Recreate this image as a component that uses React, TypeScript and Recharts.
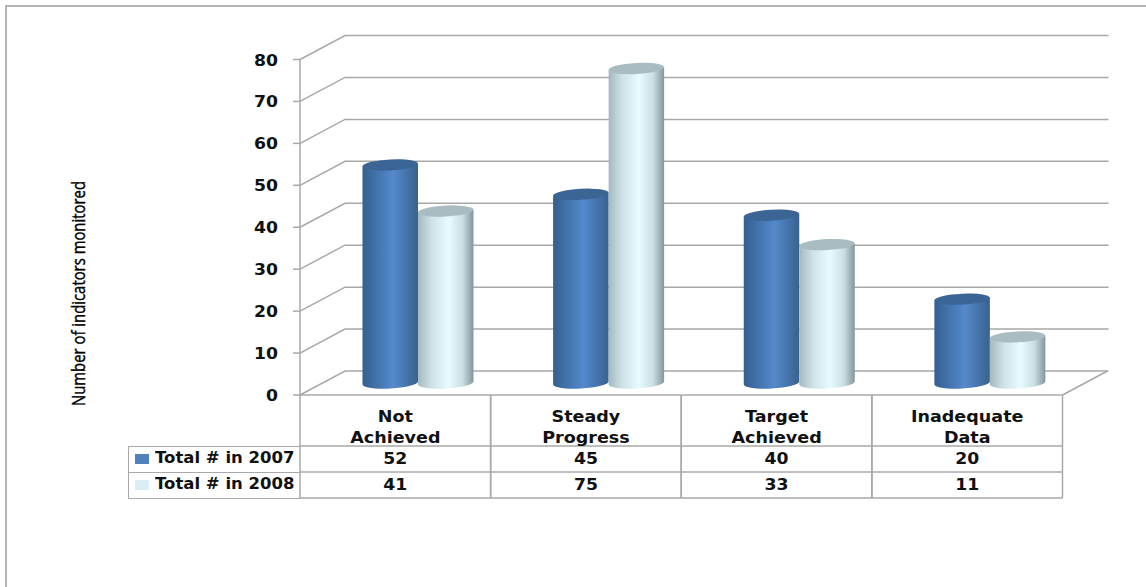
import React from 'react';
import { BarChart, Bar, XAxis, YAxis, CartesianGrid, Legend, Label } from 'recharts';

const categories = ['Not Achieved', 'Steady Progress', 'Target Achieved', 'Inadequate Data'];
const total2007 = [52, 45, 40, 20];
const total2008 = [41, 75, 33, 11];
const yTicks = [0, 10, 20, 30, 40, 50, 60, 70, 80];
const seriesNames = ['Total # in 2007', 'Total # in 2008'];
const swatchColors = ['#4f81bd', '#dbeef4'];

const data = categories.map((name, i) => ({
  name,
  total2007: total2007[i],
  total2008: total2008[i],
}));

const GRID = '#a8a8a8';
const INK = '#111111';
const FONT = '"DejaVu Sans", Verdana, sans-serif';

// half of the floor depth: bars stand mid-way between the front axis and the back wall
const DEPTH_X = 22.5;
const DEPTH_Y = 12;
const TILT = 3;

const GridLine = (props: any) => {
  const { x1, x2, y1, y, height } = props;
  const isFloor = Math.abs(y1 - (y + height)) < 1;
  return (
    <g stroke={GRID} strokeWidth={1.5} fill="none">
      <polyline
        points={`${x1 - DEPTH_X},${y1 + DEPTH_Y} ${x1 + DEPTH_X},${y1 - DEPTH_Y} ${x2 + DEPTH_X + 1},${y1 - DEPTH_Y}`}
      />
      {isFloor && (
        <line x1={x2 - DEPTH_X} y1={y1 + DEPTH_Y} x2={x2 + DEPTH_X} y2={y1 - DEPTH_Y} />
      )}
    </g>
  );
};

// Bold label stretched sideways around its anchor point
const WideText = ({ x, y, sx, anchor = 'middle', children }: any) => (
  <text
    transform={`translate(${x} ${y}) scale(${sx} 1)`}
    textAnchor={anchor}
    fontFamily={FONT}
    fontWeight="bold"
    fontSize={15}
    fill={INK}
  >
    {children}
  </text>
);

const ValueTick = (props: any) => {
  const { x, y, payload, height } = props;
  const frontX = x - DEPTH_X;
  const frontY = y + DEPTH_Y;
  return (
    <g>
      <line x1={frontX - 7} y1={frontY} x2={frontX} y2={frontY} stroke={GRID} strokeWidth={1.5} />
      {payload.value === 0 && (
        <line x1={frontX} y1={frontY} x2={frontX} y2={frontY - height} stroke={GRID} strokeWidth={1.5} />
      )}
      <WideText x={frontX - 22} y={frontY + 6} sx={1.15} anchor="end">
        {payload.value}
      </WideText>
    </g>
  );
};

// Category labels and the data table under the plot, one column per tick
const CategoryTick = (props: any) => {
  const { x, y, payload, width, index } = props;
  const colW = width / categories.length;
  const cx = x - DEPTH_X;
  const left = cx - colW / 2;
  const right = cx + colW / 2;
  const top = y + DEPTH_Y;
  const row = data.find((d) => d.name === payload.value) ?? data[index];
  const words = String(payload.value).split(' ');
  return (
    <g>
      <g stroke={GRID} strokeWidth={1.5} fill="none">
        <line x1={left} y1={top} x2={right} y2={top} />
        <line x1={left} y1={top + 51} x2={right} y2={top + 51} />
        <line x1={left} y1={top + 77} x2={right} y2={top + 77} />
        <line x1={left} y1={top + 103} x2={right} y2={top + 103} />
        <line x1={left} y1={top} x2={left} y2={top + 103} />
        <line x1={right} y1={top} x2={right} y2={top + 103} />
      </g>
      <WideText x={cx} y={top + 27} sx={1.17}>{words[0]}</WideText>
      <WideText x={cx} y={top + 48} sx={1.17}>{words[1]}</WideText>
      <WideText x={cx} y={top + 69} sx={1.15}>{row.total2007}</WideText>
      <WideText x={cx} y={top + 95} sx={1.15}>{row.total2008}</WideText>
    </g>
  );
};

const Cylinder = (props: any) => {
  const { x, y, width, height, fill, topFill } = props;
  const rx = width / 2;
  const ry = 5.5;
  const lift = rx * Math.tan((TILT * Math.PI) / 180);
  const cx = x + rx;
  const base = y + height;
  const body =
    `M${x},${y + lift} L${x},${base + lift} ` +
    `A${rx},${ry} ${-TILT} 0 0 ${x + width},${base - lift} ` +
    `L${x + width},${y - lift} Z`;
  return (
    <g>
      <path d={body} fill={fill} />
      <ellipse cx={cx} cy={y} rx={rx} ry={ry} fill={topFill} transform={`rotate(${-TILT} ${cx} ${y})`} />
    </g>
  );
};

const TableLegend = () => (
  <div
    style={{
      width: 172,
      boxSizing: 'border-box',
      border: `1.5px solid ${GRID}`,
      borderRight: 'none',
      fontFamily: FONT,
      fontWeight: 'bold',
      fontSize: 15,
      color: INK,
    }}
  >
    {seriesNames.map((name, i) => (
      <div
        key={name}
        style={{
          height: 25,
          display: 'flex',
          alignItems: 'center',
          borderTop: i ? `1.5px solid ${GRID}` : 'none',
          whiteSpace: 'nowrap',
        }}
      >
        <span
          style={{
            flex: 'none',
            width: 14,
            height: 10,
            margin: '0 6.5px 2px 5.5px',
            background: swatchColors[i],
          }}
        />
        <span
          style={{
            display: 'inline-block',
            transform: 'scaleX(1.1)',
            transformOrigin: 'left center',
            position: 'relative',
            top: -1.5,
          }}
        >
          {name}
        </span>
      </div>
    ))}
  </div>
);

const App = () => {
  return (
    <div
      style={{
        position: 'absolute',
        left: 0,
        top: 0,
        width: 1146,
        height: 587,
        overflow: 'hidden',
        background: '#ffffff',
      }}
    >
      <div
        style={{
          position: 'absolute',
          left: 5,
          top: 5,
          right: -4,
          bottom: -4,
          borderLeft: '2px solid #b4b4b4',
          borderTop: '2px solid #b4b4b4',
        }}
      />
      <BarChart
        width={1146}
        height={587}
        data={data}
        barGap={0}
        barSize={55.5}
        margin={{ top: 47.5, right: 61, bottom: 84, left: 0 }}
        style={{ position: 'absolute', left: 0, top: 0 }}
      >
        <defs>
          <linearGradient id="cylBlue" x1="0" y1="0" x2="1" y2="0">
            <stop offset="0" stopColor="#34608f" />
            <stop offset="0.55" stopColor="#5489cc" />
            <stop offset="1" stopColor="#38628f" />
          </linearGradient>
          <linearGradient id="cylPale" x1="0" y1="0" x2="1" y2="0">
            <stop offset="0" stopColor="#a4b9be" />
            <stop offset="0.25" stopColor="#cfe2e7" />
            <stop offset="0.55" stopColor="#e8fbff" />
            <stop offset="0.8" stopColor="#cbdee3" />
            <stop offset="1" stopColor="#82979c" />
          </linearGradient>
        </defs>
        <CartesianGrid vertical={false} horizontal={(p: any) => <GridLine key={p.key} {...p} />} />
        <XAxis
          dataKey="name"
          axisLine={false}
          tickLine={false}
          tickSize={0}
          tickMargin={0}
          height={120}
          interval={0}
          tick={(p: any) => <CategoryTick {...p} />}
        />
        <YAxis
          domain={[0, 80]}
          ticks={yTicks}
          interval={0}
          width={322.5}
          axisLine={false}
          tickLine={false}
          tickSize={0}
          tickMargin={0}
          tick={(p: any) => <ValueTick {...p} />}
        >
          <Label
            content={() => (
              <text
                transform="translate(85 293.5) rotate(-90)"
                textAnchor="middle"
                fontFamily='"Liberation Sans Narrow", "Open Sans", sans-serif'
                fontSize={18}
                fill="#000000"
                stroke="#000000"
                strokeWidth={0.4}
                textLength={225}
                lengthAdjust="spacingAndGlyphs"
              >
                Number of indicators monitored
              </text>
            )}
          />
        </YAxis>
        <Legend
          layout="horizontal"
          verticalAlign="middle"
          align="center"
          content={() => <TableLegend />}
          wrapperStyle={{ position: 'absolute', left: 128, top: 446, width: 172 }}
        />
        <Bar
          dataKey="total2007"
          name={seriesNames[0]}
          fill="url(#cylBlue)"
          shape={(p: any) => <Cylinder {...p} topFill="#3a6594" />}
          isAnimationActive={false}
        />
        <Bar
          dataKey="total2008"
          name={seriesNames[1]}
          fill="url(#cylPale)"
          shape={(p: any) => <Cylinder {...p} topFill="#a8bcc2" />}
          isAnimationActive={false}
        />
      </BarChart>
    </div>
  );
};

export default App;
